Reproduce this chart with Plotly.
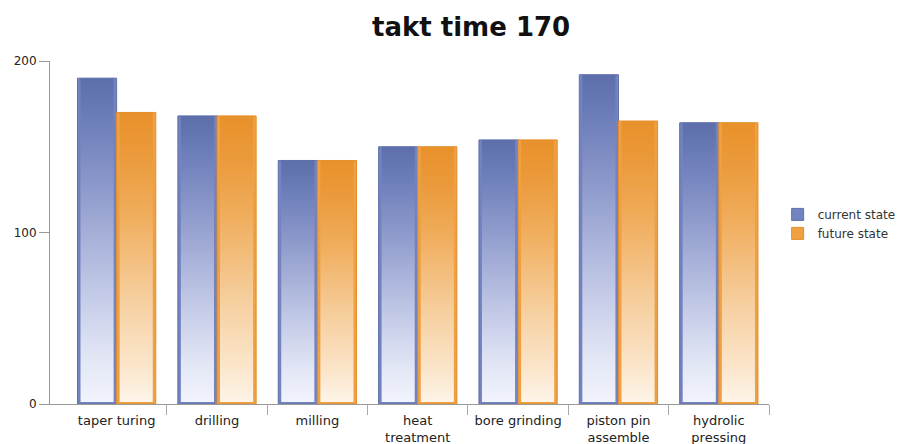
import plotly.graph_objects as go

# Process steps and cycle times (seconds)
steps = ["taper turing", "drilling", "milling", "heat<br>treatment",
         "bore grinding", "piston pin<br>assemble", "hydrolic<br>pressing"]
current_state = [190, 168, 142, 150, 154, 192, 164]
future_state = [170, 168, 142, 150, 154, 165, 164]
y_ticks = [0, 100, 200]

BARGAP = 0.22
BAR_W = (1 - BARGAP) / 2
INSET_X = 0.03      # edge left visible around the gradient body
INSET_Y = 1.2

series = [
    dict(name="current state", values=current_state, base="#7383bf", edge="#6070aa",
         scale=[[0, "#f1f3fc"], [0.12, "#e4e8f6"], [0.35, "#c1c8e6"],
                [0.65, "#8f9bcc"], [0.85, "#6f80bb"], [1, "#5c6fab"]]),
    dict(name="future state", values=future_state, base="#eea042", edge="#e48f2c",
         scale=[[0, "#fdf4e8"], [0.12, "#fbe6cc"], [0.35, "#f6cf9f"],
                [0.65, "#f0ad5c"], [0.85, "#eb9a3b"], [1, "#e8912b"]]),
]

xs = list(range(len(steps)))
fig = go.Figure()

for s in series:
    fig.add_trace(go.Bar(
        x=xs, y=s["values"], name=s["name"],
        marker=dict(color=s["base"], line=dict(color=s["edge"], width=1)),
        hoverinfo="x+y",
    ))

# gradient body of each bar, drawn over the grouped bars
for k, s in enumerate(series):
    for i, v in enumerate(s["values"]):
        left = i - BAR_W + k * BAR_W + INSET_X
        right = i + k * BAR_W - INSET_X
        fig.add_trace(go.Scatter(
            x=[left, right, right, left, left],
            y=[INSET_Y, INSET_Y, v, v, INSET_Y],
            mode="none", fill="toself",
            fillgradient=dict(type="vertical", colorscale=s["scale"]),
            showlegend=False, hoverinfo="skip",
        ))

fig.update_layout(
    width=913, height=444,
    margin=dict(l=50, r=137, t=61, b=40),
    paper_bgcolor="white", plot_bgcolor="white",
    barmode="group", bargap=BARGAP, bargroupgap=0,
    font=dict(family="DejaVu Sans", size=12, color="#222"),
    title=dict(text="<b>takt time 170</b>", x=0.516, xanchor="center",
               y=0.94, yanchor="middle",
               font=dict(family="DejaVu Sans", size=26, color="#111")),
    legend=dict(x=1.012, xanchor="left", y=0.595, yanchor="top",
                font=dict(size=12, color="#333"), tracegroupgap=0,
                bgcolor="rgba(0,0,0,0)"),
    showlegend=True,
)

fig.update_xaxes(
    range=[-0.664, 6.5], automargin=False,
    tickmode="array", tickvals=xs, ticktext=steps,
    ticks="outside", ticklen=4, tickcolor="rgba(0,0,0,0)",
    tickfont=dict(size=13, color="#222"),
    showline=True, linecolor="#999", linewidth=1,
    showgrid=False, zeroline=False,
    minor=dict(tickmode="array", tickvals=[i + 0.5 for i in xs],
               ticks="outside", ticklen=10, tickcolor="#aaa", showgrid=False),
)
fig.update_yaxes(
    range=[0, 200], automargin=False,
    tickmode="array", tickvals=y_ticks,
    ticks="outside", ticklen=10, tickcolor="#999",
    tickfont=dict(size=12, color="#222"),
    showline=True, linecolor="#999", linewidth=1,
    showgrid=False, zeroline=False,
)

fig.write_html("out.html")
